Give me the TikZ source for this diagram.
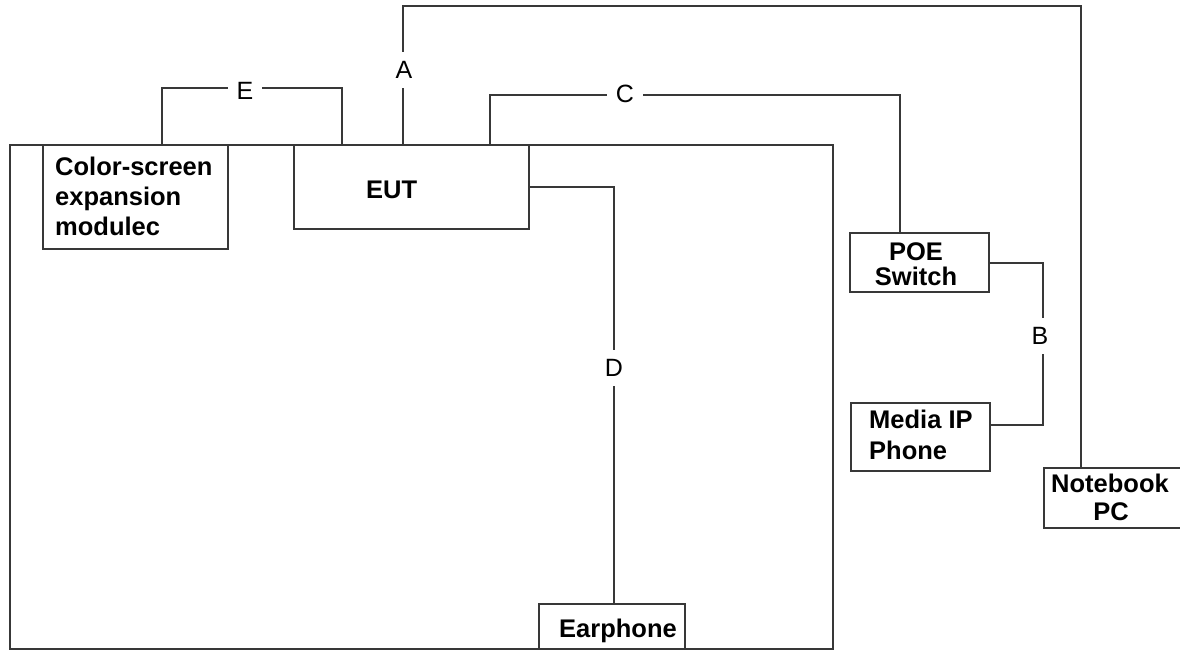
\documentclass[tikz,border=0pt]{standalone}
\usepackage{fontspec}
\setmainfont{Liberation Sans}
\begin{document}
\begin{tikzpicture}[x=1pt,y=-1pt,
  wire/.style={draw=black!78,line width=1.6pt},
  box/.style={draw=black!78,line width=1.6pt,inner sep=0pt,anchor=north west},
  txt/.style={inner sep=0pt,font=\bfseries\fontsize{25.5}{30}\selectfont},
  lab/.style={fill=white,inner sep=9pt,font=\fontsize{25}{30}\selectfont}]
\useasboundingbox (0,0) rectangle (1180,650);
\clip (0,0) rectangle (1180,650);
\fill[white] (0,0) rectangle (1180,650);
% boxes
\node[box,minimum width=823pt,minimum height=504pt] (room) at (9,144) {};
\node[box,minimum width=185pt,minimum height=104pt] (color) at (42,144) {};
\node[box,minimum width=235pt,minimum height=84pt] (eut) at (293,144) {};
\node[box,minimum width=139pt,minimum height=59pt] (poe) at (849,232) {};
\node[box,minimum width=139pt,minimum height=68pt] (media) at (850,402) {};
\node[box,minimum width=150pt,minimum height=60pt] (nb) at (1043,467) {};
\node[box,minimum width=146pt,minimum height=45pt] (ear) at (538,603) {};
% texts
\node[txt,anchor=base west] (tc1) at (55,175) {Color-screen};
\node[txt,anchor=base west] (tc2) at (55,205) {expansion};
\node[txt,anchor=base west] (tc3) at (55,235) {modulec};
\node[txt,anchor=base west] (teut) at (366,198) {EUT};
\node[txt,anchor=base] (tp1) at (916,260) {POE};
\node[txt,anchor=base] (tp2) at (916,285) {Switch};
\node[txt,anchor=base west] (tm1) at (869,428) {Media IP};
\node[txt,anchor=base west] (tm2) at (869,459) {Phone};
\node[txt,anchor=base] (tn1) at (1110,492) {Notebook};
\node[txt,anchor=base] (tn2) at (1111,520) {PC};
\node[txt,anchor=base west] (te) at (559,637) {Earphone};
% waypoints
\coordinate (aL) at (403,6);
\coordinate (aR) at (1081,6);
\coordinate (cL) at (490,95);
\coordinate (cR) at (900,95);
\coordinate (eL) at (162,88);
\coordinate (eR) at (342,88);
\coordinate (dC) at (614,187);
\coordinate (b1) at (1043,263);
\coordinate (b2) at (1043,425);
% connectors
\draw[wire] (eut.north -| aL) -- (aL) -- (aR) -- (nb.north -| aR);
\draw[wire] (eut.north -| cL) -- (cL) -- (cR) -- (poe.north -| cR);
\draw[wire] (color.north -| eL) -- (eL) -- (eR) -- (eut.north -| eR);
\draw[wire] (eut.east |- dC) -- (dC) -- (ear.north -| dC);
\draw[wire] (poe.east |- b1) -- (b1) -- (b2) -- (media.east |- b2);
% labels
\node[lab] (labA) at (404,70) {A};
\node[lab] (labC) at (625,94) {C};
\node[lab] (labE) at (245,91) {E};
\node[lab] (labD) at (614,368) {D};
\node[lab] (labB) at (1040,336) {B};
\end{tikzpicture}
\end{document}
